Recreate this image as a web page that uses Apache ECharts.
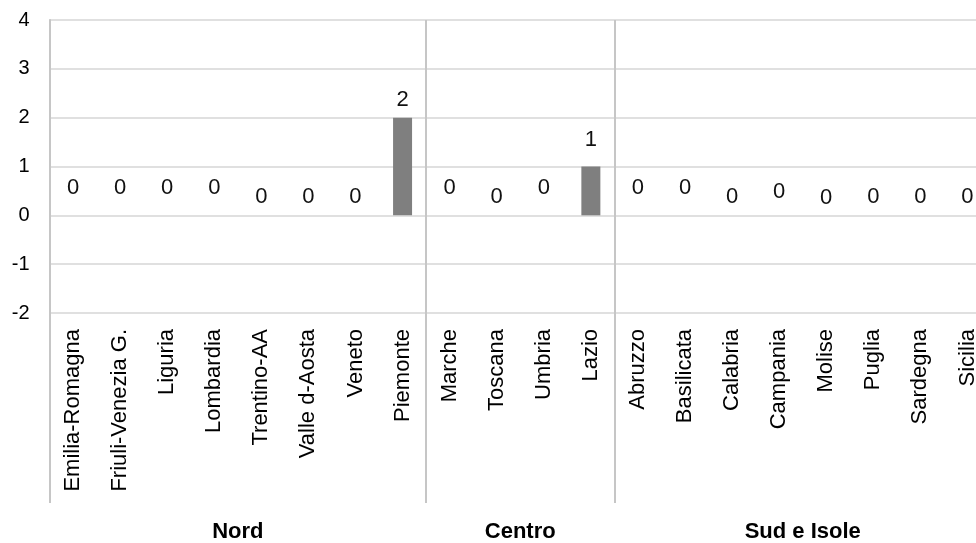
<!DOCTYPE html>
<html>
<head>
<meta charset="utf-8">
<script src="https://cdn.jsdelivr.net/npm/echarts@6/dist/echarts.min.js"></script>
<style>
html,body{margin:0;padding:0;background:#fff;overflow:hidden;width:976px;height:543px;}
#c{width:991px;height:543px;}
</style>
</head>
<body>
<div id="c"></div>
<script>
// ---- data ----
var regions = ["Emilia-Romagna","Friuli-Venezia G.","Liguria","Lombardia","Trentino-AA","Valle d-Aosta","Veneto","Piemonte",
               "Marche","Toscana","Umbria","Lazio",
               "Abruzzo","Basilicata","Calabria","Campania","Molise","Puglia","Sardegna","Sicilia"];
var values = [0,0,0,0,0,0,0,2, 0,0,0,1, 0,0,0,0,0,0,0,0];
var groupNames = ["Nord","Centro","Sud e Isole"];
var groupSizes = [8,4,8];
var yTicks = [-2,-1,0,1,2,3,4];

// ---- styling (label height quirks of the original) ----
var labelLift = [9,9,9,9,0,0,0,0, 9,0,9,9, 9,9,0,5,-1,0,0,0];

var boundaries = [0];
var mids = [];
(function(){var acc=0;for(var i=0;i<groupSizes.length;i++){mids.push(acc+groupSizes[i]/2);acc+=groupSizes[i];boundaries.push(acc);}})();

var FONT = "Liberation Sans, Arial, sans-serif";
var chart = echarts.init(document.getElementById('c'));
chart.setOption({
  animation:false,
  grid:{left:49.5, top:20, right:0, bottom:230},
  xAxis:[{
    type:'category', data:regions, position:'bottom',
    axisLine:{show:false},
    axisTick:{show:false},
    splitLine:{show:true, lineStyle:{color:'#c6c6c6', width:2},
      interval:function(i){return boundaries.indexOf(i)>0;}},
    axisLabel:{rotate:90, fontSize:22, fontFamily:FONT, color:'#000', margin:16, interval:0}
  },{
    type:'value', min:0, max:regions.length, position:'bottom',
    axisLine:{show:false}, splitLine:{show:false},
    axisTick:{show:true, customValues:boundaries, length:190, inside:false, lineStyle:{color:'#c6c6c6', width:2}},
    axisLabel:{customValues:mids, fontSize:22, fontWeight:'bold', fontFamily:FONT, color:'#000', margin:208,
      formatter:function(v){var k=mids.indexOf(v);return k>=0?groupNames[k]:'';}}
  }],
  yAxis:{
    type:'value', min:yTicks[0], max:yTicks[yTicks.length-1], interval:1,
    axisLine:{show:true, lineStyle:{color:'#c6c6c6', width:2}},
    axisTick:{show:false},
    splitLine:{show:true, lineStyle:{color:'#d6d6d6', width:1.5}},
    axisLabel:{fontSize:20, fontFamily:FONT, color:'#000', margin:20}
  },
  series:[{
    type:'bar', xAxisIndex:0, barWidth:19,
    itemStyle:{color:'#7f7f7f'},
    data:values.map(function(v,i){return {value:v, label:{distance:7+labelLift[i]}};}),
    label:{show:true, position:'top', fontSize:22, fontFamily:FONT, color:'#111'}
  }]
});
</script>
</body>
</html>
